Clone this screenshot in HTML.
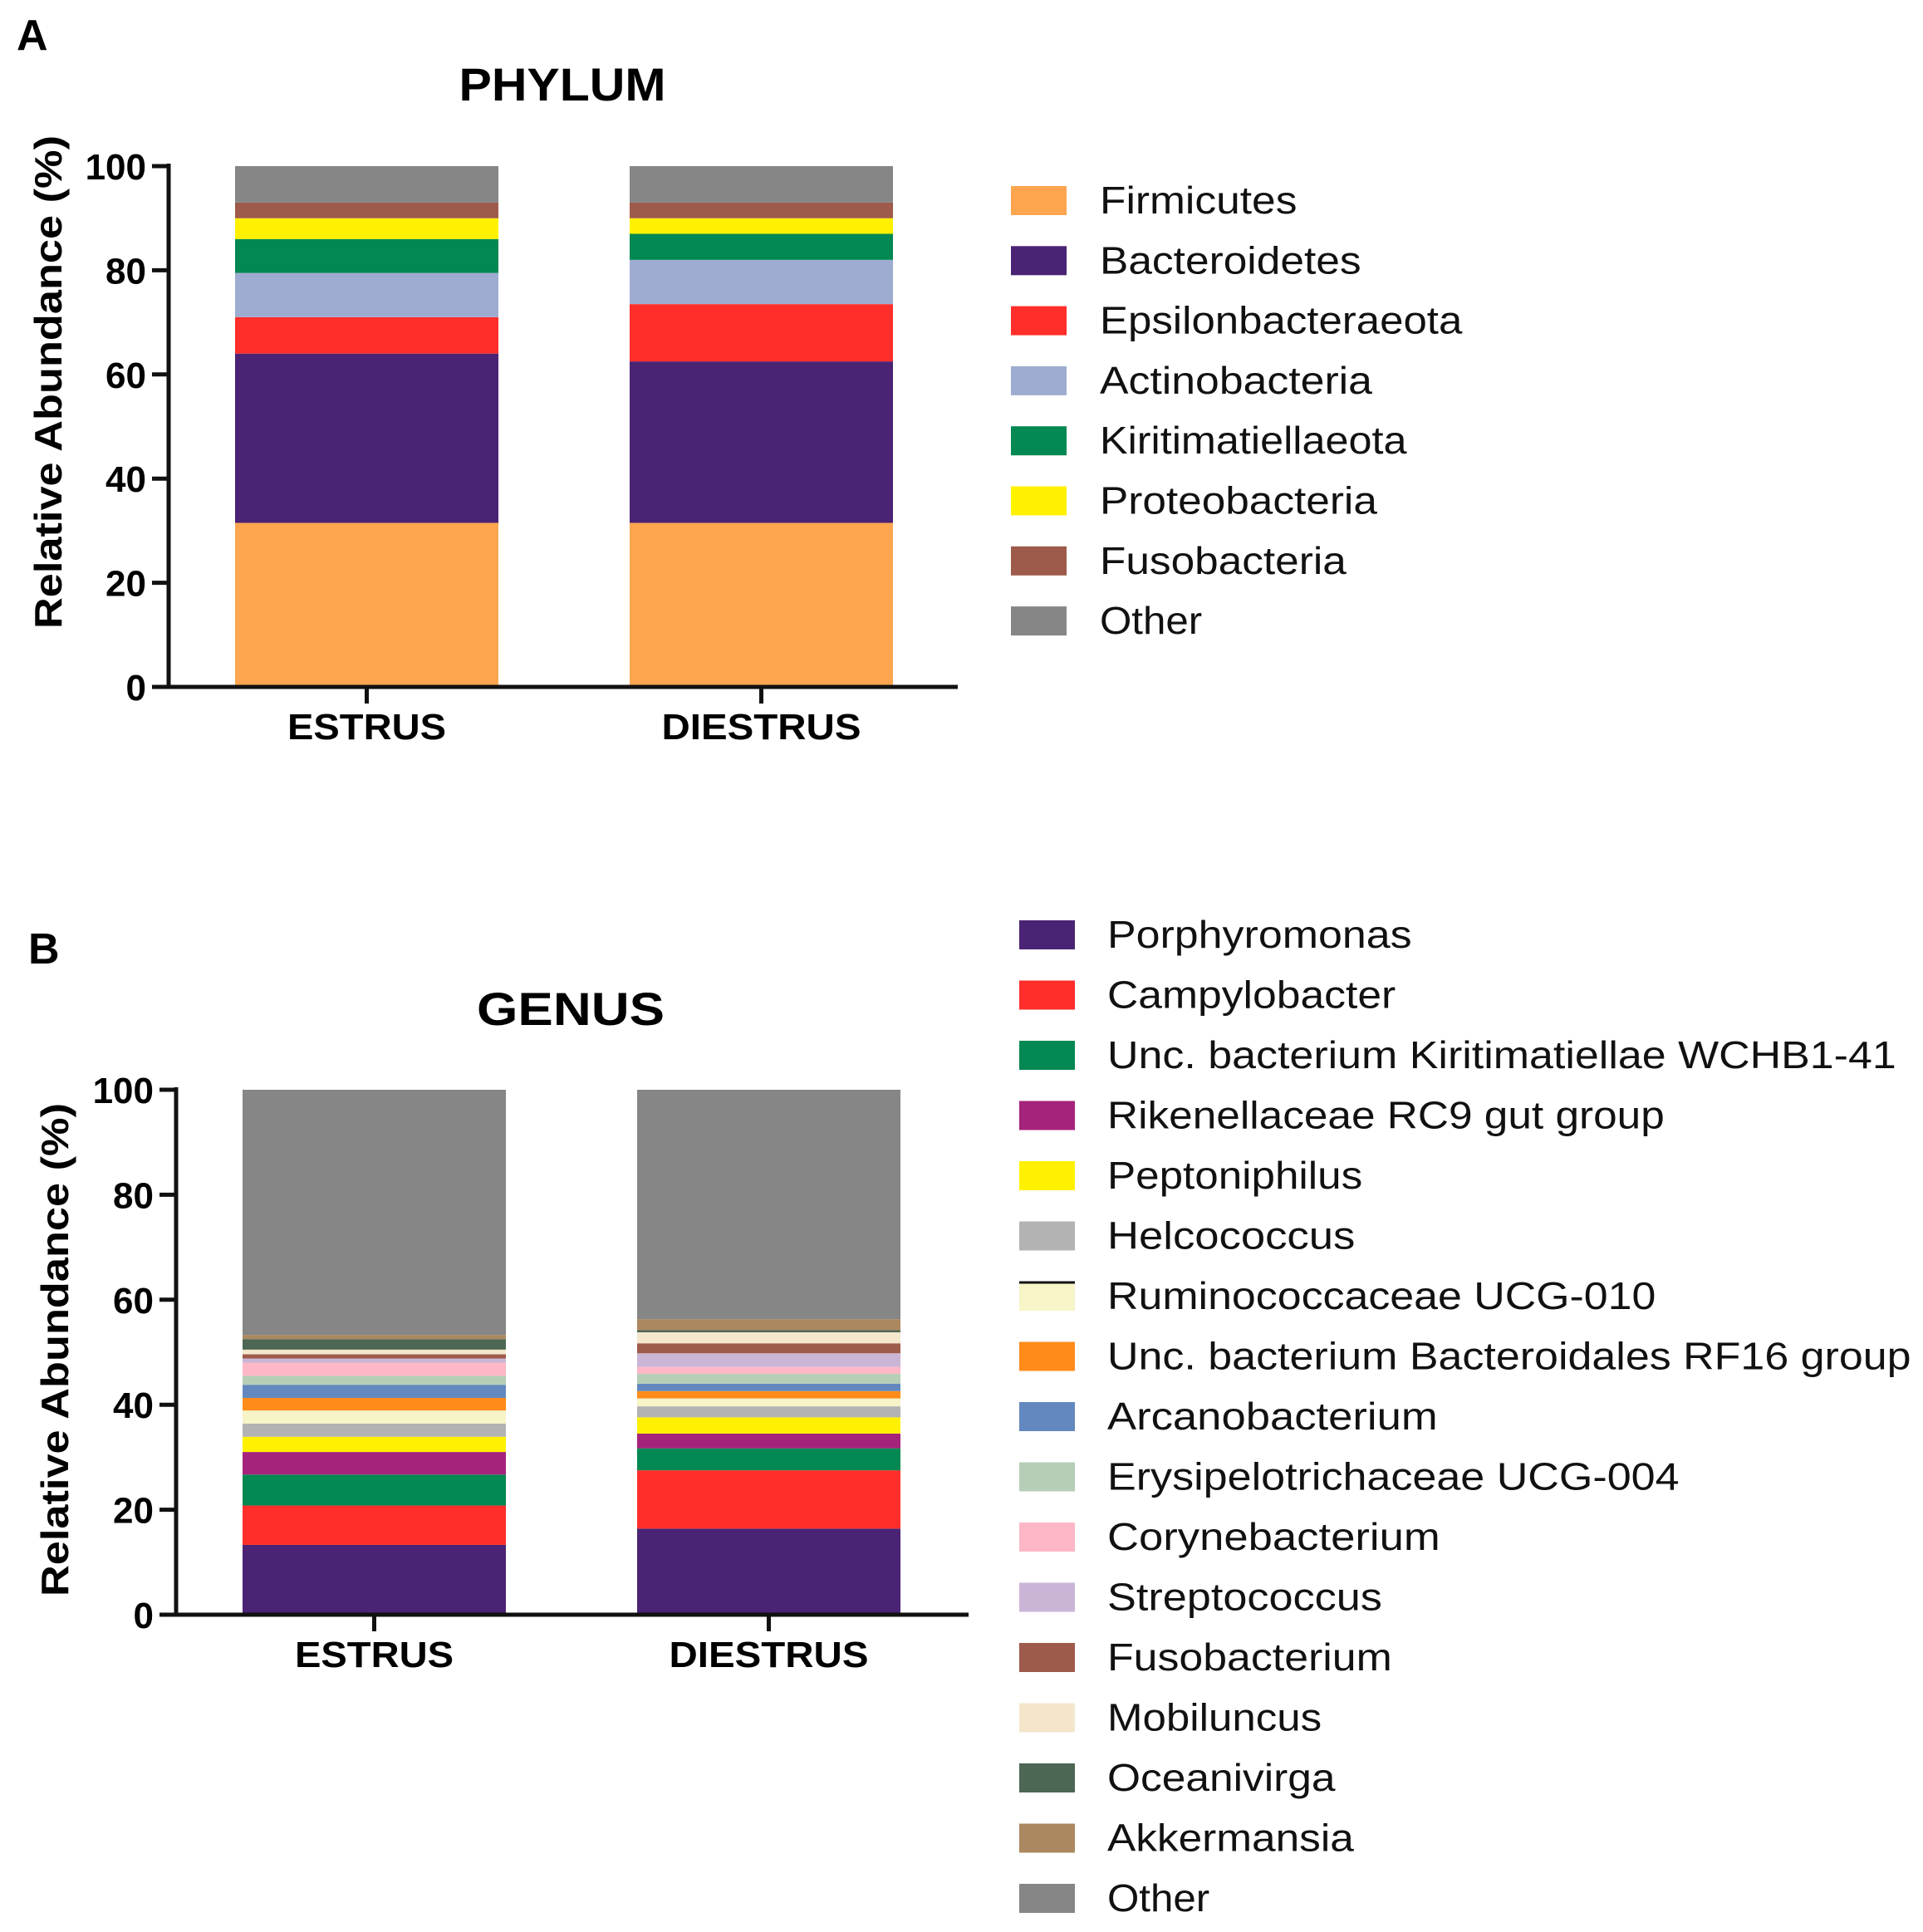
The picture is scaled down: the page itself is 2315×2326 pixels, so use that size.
<!DOCTYPE html>
<html><head><meta charset="utf-8">
<style>
html,body{margin:0;padding:0;background:#fff;}
svg{display:block;font-family:"Liberation Sans",Arial,sans-serif;}
</style></head>
<body>
<svg id="fig" width="2315" height="2326" viewBox="0 0 2315 2326" xmlns="http://www.w3.org/2000/svg">
<rect width="2315" height="2326" fill="#fff"/>
</svg>
<script>
// ---- Data ----
const categories = ["ESTRUS","DIESTRUS"];
const yTicks = [0,20,40,60,80,100];
const phylumNames = ["Firmicutes","Bacteroidetes","Epsilonbacteraeota","Actinobacteria","Kiritimatiellaeota","Proteobacteria","Fusobacteria","Other"];
const phylumEstrus = [31.5,32.5,7,8.5,6.5,4,3,7];
const phylumDiestrus = [31.5,31,11,8.5,5,3,3,7];
const phylumColors = ["#fda64f","#4a2374","#ff2e2a","#9dacd0","#028852","#fff100","#9e5a4a","#858685"];
const genusNames = ["Porphyromonas","Campylobacter","Unc. bacterium Kiritimatiellae WCHB1-41","Rikenellaceae RC9 gut group","Peptoniphilus","Helcococcus","Ruminococcaceae UCG-010","Unc. bacterium Bacteroidales RF16 group","Arcanobacterium","Erysipelotrichaceae UCG-004","Corynebacterium","Streptococcus","Fusobacterium","Mobiluncus","Oceanivirga","Akkermansia","Other"];
const genusEstrus = [13.3,7.5,5.9,4.3,2.9,2.5,2.5,2.4,2.5,1.7,2.5,0.8,0.8,0.9,2.0,0.8,46.7];
const genusDiestrus = [16.4,11.1,4.2,2.8,3.1,2.1,1.5,1.4,1.4,1.9,1.3,2.6,1.9,2.1,0.4,2.1,43.7];
const genusColors = ["#4a2374","#ff2e2a","#028852","#a6237b","#fff100","#b3b3b3","#f7f4c8","#ff8c1a","#6388bf","#b6ceb6","#feb7c7","#cbb5d7","#9e5a4a","#f3e6cb","#4c6753","#ac8860","#858685"];
const phylumLabelW = [160,212,294,221,249,225,200,83];
const genusLabelW = [247,234,640,452,207,201,445,652,268,464,270,223,231,174,185,200,83];

const NS="http://www.w3.org/2000/svg";
const svg=document.getElementById('fig');
function mk(tag,attrs,parent){const e=document.createElementNS(NS,tag);for(const k in attrs)e.setAttribute(k,attrs[k]);(parent||svg).appendChild(e);return e;}

function panel(cfg){
  const g=mk('g',{});
  
  
  const y=v=>cfg.y0-(cfg.y0-cfg.y100)*v/100;
  const L=mk('text',{x:cfg.letterX,y:cfg.letterY,'font-size':52,'font-weight':'bold'},g);
  L.textContent=cfg.letter;
  
  
  const T=mk('text',{x:cfg.titleX,y:cfg.titleY,'font-size':56,'font-weight':'bold','text-anchor':'middle',textLength:cfg.titleW,lengthAdjust:'spacingAndGlyphs'},g);
  T.textContent=cfg.title;
  
  
  const series=[cfg.estrus,cfg.diestrus];
  series.forEach((vals,bi)=>{
    let cum=0;
    vals.forEach((v,i)=>{
      const top=y(cum+v),bot=y(cum);
      const r=mk('rect',{x:cfg.barX[bi],y:top,width:cfg.barW,height:Math.max(0,bot-top),fill:cfg.colors[i]},g);
      
      
      cum+=v;
    });
  });
  const ax=mk('path',{d:`M${cfg.axX},${cfg.y100-3} V${cfg.y0} H${cfg.axEnd}`,stroke:'#111','stroke-width':5,fill:'none'},g);
  
  
  yTicks.forEach(t=>{
    const tk=mk('line',{x1:cfg.axX-20,x2:cfg.axX,y1:y(t),y2:y(t),stroke:'#111','stroke-width':5},g);
    
    
    const tl=mk('text',{x:cfg.axX-27,y:y(t)+16,'font-size':44,'font-weight':'bold','text-anchor':'end'},g);
    tl.textContent=t;
    
    
  });
  categories.forEach((c,bi)=>{
    const cx=cfg.barX[bi]+cfg.barW/2;
    const tk=mk('line',{x1:cx,x2:cx,y1:cfg.y0,y2:cfg.y0+20,stroke:'#111','stroke-width':5},g);
    
    
    const tl=mk('text',{x:cx,y:cfg.y0+63,'font-size':44,'font-weight':'bold','text-anchor':'middle',textLength:c==='DIESTRUS'?240:191,lengthAdjust:'spacingAndGlyphs'},g);
    tl.textContent=c;
    
    
  });
  const yt=mk('text',{x:0,y:0,'font-size':46,'font-weight':'bold','text-anchor':'middle',transform:`translate(${cfg.ytX},${cfg.ytY}) rotate(-90)`,textLength:594,lengthAdjust:'spacingAndGlyphs'},g);
  yt.textContent='Relative Abundance (%)';
  
  
  cfg.names.forEach((n,i)=>{
    const ly=cfg.legY+i*cfg.legStep;
    const lg=mk('g',{},g);
    
    
    const s=mk('rect',{x:cfg.legX,y:ly-17,width:67,height:35,fill:cfg.colors[i]},lg);
    
    
    if(cfg.key==='genus'&&i===6){const bl=mk('line',{x1:cfg.legX,x2:cfg.legX+67,y1:ly-16,y2:ly-16,stroke:'#111','stroke-width':3},lg);}
    const t=mk('text',{x:cfg.legTX,y:ly+16,'font-size':46,textLength:cfg.labelW[i]*1.484,lengthAdjust:'spacingAndGlyphs',fill:'#111'},lg);
    t.textContent=n;
    
    
  });
}

panel({key:'phylum',letter:'A',letterX:20,letterY:60,title:'PHYLUM',titleX:677,titleY:121,titleW:249,
  y0:827,y100:200,axX:203,axEnd:1153,barX:[283,758],barW:317,
  estrus:phylumEstrus,diestrus:phylumDiestrus,colors:phylumColors,names:phylumNames,labelW:phylumLabelW,
  ytX:74,ytY:460,legX:1217,legTX:1324,legY:241,legStep:72.3});
panel({key:'genus',letter:'B',letterX:34,letterY:1160,title:'GENUS',titleX:687,titleY:1234,titleW:226,
  y0:1944,y100:1312,axX:212,axEnd:1166,barX:[292,767],barW:317,
  estrus:genusEstrus,diestrus:genusDiestrus,colors:genusColors,names:genusNames,labelW:genusLabelW,
  ytX:82,ytY:1625,legX:1227,legTX:1333,legY:1125,legStep:72.5});
</script>
</body></html>
